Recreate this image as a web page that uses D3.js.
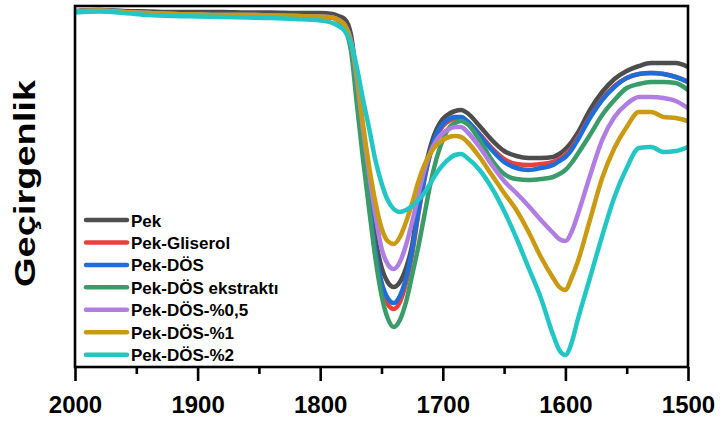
<!DOCTYPE html>
<html>
<head>
<meta charset="utf-8">
<script src="https://cdn.jsdelivr.net/npm/d3@7"></script>
<style>
  html, body { margin: 0; padding: 0; background: #ffffff; }
  svg { display: block; font-family: "Liberation Sans", Arial, sans-serif; }
</style>
</head>
<body>
<svg id="chart" width="725" height="425"></svg>
<script>
// FTIR spectra, 2000–1500 cm⁻¹ (transmittance, arbitrary units)
const wavenumbers = [2000, 1980, 1960, 1940, 1920, 1900, 1880, 1860, 1840, 1820, 1800,
  1790, 1785, 1780, 1775, 1770, 1765, 1760, 1755, 1750, 1745, 1740, 1735, 1730, 1725,
  1720, 1715, 1710, 1705, 1700, 1695, 1690, 1685, 1680, 1670, 1660, 1650, 1640, 1630,
  1620, 1610, 1605, 1600, 1595, 1590, 1580, 1570, 1560, 1550, 1540, 1530, 1520, 1510, 1500];

const pek = [71.2, 71.4, 71.2, 71.1, 71.0, 71.0, 71.0, 70.9, 70.9, 70.8, 70.8,
  70.6, 70.2, 69.6, 66.6, 57.0, 45.4, 35.0, 25.8, 20.0, 17.0, 16.0, 17.0, 19.8, 24.4,
  32.8, 39.0, 44.2, 47.6, 49.6, 50.6, 51.2, 51.4, 50.8, 48.2, 45.4, 43.2, 42.2, 41.8,
  41.8, 42.0, 42.6, 43.6, 45.0, 46.8, 51.4, 55.0, 57.6, 59.2, 60.2, 60.8, 60.8, 60.8, 60.0];

const pekGliserol = [71.1, 71.3, 71.0, 70.8, 70.6, 70.5, 70.4, 70.4, 70.3, 70.2, 70.1,
  69.9, 69.4, 68.4, 65.0, 55.0, 43.0, 32.4, 22.6, 16.0, 12.6, 11.6, 13.0, 16.8, 22.6,
  30.4, 37.4, 42.8, 46.2, 48.2, 49.2, 49.6, 49.6, 49.0, 46.6, 43.8, 41.6, 40.6, 40.4,
  40.6, 41.0, 41.6, 42.4, 43.8, 45.8, 50.0, 53.6, 56.2, 57.8, 58.6, 58.8, 58.6, 58.0, 57.0];

const pekDos = [71.1, 71.3, 71.0, 70.8, 70.6, 70.5, 70.4, 70.4, 70.3, 70.2, 70.1,
  69.9, 69.4, 68.4, 65.2, 55.4, 43.4, 33.0, 23.4, 17.0, 13.8, 12.8, 14.2, 17.8, 23.4,
  31.0, 37.8, 43.0, 46.6, 48.6, 49.6, 50.0, 50.0, 49.2, 46.4, 43.4, 41.0, 39.8, 39.4,
  39.8, 40.4, 41.2, 42.0, 43.4, 45.4, 49.8, 53.4, 56.0, 57.8, 58.6, 58.8, 58.6, 58.0, 57.0];

const pekDosEkstrakt = [71.1, 71.3, 71.0, 70.8, 70.6, 70.5, 70.4, 70.4, 70.3, 70.2, 70.1,
  69.9, 69.2, 67.8, 63.4, 52.4, 41.4, 31.4, 21.8, 14.4, 9.8, 8.0, 9.4, 13.0, 18.4,
  24.0, 30.4, 36.8, 41.8, 45.4, 47.8, 48.8, 49.2, 48.6, 45.4, 41.4, 38.6, 37.6, 37.4,
  37.6, 38.0, 38.6, 39.4, 40.8, 42.6, 46.4, 50.4, 53.4, 55.8, 56.6, 57.0, 57.0, 56.8, 55.4];

const pekDos05 = [71.1, 71.3, 71.0, 70.8, 70.6, 70.5, 70.4, 70.4, 70.3, 70.2, 70.1,
  69.9, 69.4, 68.4, 65.4, 57.4, 47.4, 38.4, 30.4, 23.8, 20.6, 19.6, 21.0, 24.4, 29.0,
  34.4, 39.4, 43.0, 45.4, 46.8, 47.6, 48.0, 48.0, 47.0, 44.0, 40.4, 37.2, 34.8, 32.2,
  29.4, 26.8, 25.6, 25.2, 27.0, 30.4, 38.2, 45.4, 50.0, 52.6, 54.0, 54.0, 53.8, 53.2, 51.8];

const pekDos1 = [71.1, 71.3, 71.0, 70.8, 70.6, 70.5, 70.4, 70.4, 70.3, 70.2, 70.1,
  69.9, 69.4, 68.4, 65.0, 58.4, 48.4, 40.0, 33.0, 27.8, 25.2, 24.6, 26.0, 29.0, 32.8,
  37.0, 40.4, 42.8, 44.4, 45.4, 46.0, 46.2, 46.0, 45.0, 42.0, 38.4, 34.8, 31.4, 27.0,
  22.0, 17.8, 16.0, 15.4, 17.8, 21.0, 29.4, 37.8, 43.8, 48.0, 51.0, 51.0, 50.0, 49.8, 49.2];

const pekDos2 = [70.9, 71.1, 70.8, 70.4, 70.2, 70.1, 70.0, 69.9, 69.8, 69.6, 69.3,
  68.8, 68.2, 67.2, 64.8, 59.8, 53.4, 47.6, 41.4, 36.8, 33.4, 31.6, 31.0, 31.4, 32.2,
  33.4, 34.8, 36.8, 38.8, 40.4, 41.6, 42.4, 42.6, 41.8, 39.4, 35.8, 31.2, 25.8, 19.8,
  13.8, 6.4, 3.4, 2.4, 4.8, 9.4, 17.8, 26.2, 34.0, 39.8, 43.8, 44.0, 43.0, 43.2, 44.0];

const seriesNames = ["Pek", "Pek-Gliserol", "Pek-DÖS", "Pek-DÖS ekstraktı",
  "Pek-DÖS-%0,5", "Pek-DÖS-%1", "Pek-DÖS-%2"];
const seriesValues = [pek, pekGliserol, pekDos, pekDosEkstrakt, pekDos05, pekDos1, pekDos2];
const seriesColors = ["#4d4d4d", "#e8403f", "#1f6ed8", "#3a9d69", "#b07ee2", "#c99a12", "#22c6c5"];

const majorTicks = [2000, 1900, 1800, 1700, 1600, 1500];
const minorTicks = [1950, 1850, 1750, 1650, 1550];
const yTitle = "Geçirgenlik";

const svg = d3.select("#chart");
const plot = { left: 75, right: 688, top: 6, bottom: 367 };

const x = d3.scaleLinear().domain([2000, 1500]).range([plot.left, plot.right]);
const y = d3.scaleLinear().domain([0, 72.2]).range([plot.bottom, plot.top]);

svg.append("defs").append("clipPath").attr("id", "plotClip")
  .append("rect")
  .attr("x", plot.left).attr("y", plot.top)
  .attr("width", plot.right - plot.left).attr("height", plot.bottom - plot.top);

// spectra
const line = d3.line()
  .x((d, i) => x(wavenumbers[i]))
  .y(d => y(d))
  .curve(d3.curveMonotoneX);

svg.append("g").attr("clip-path", "url(#plotClip)")
  .selectAll("path")
  .data(seriesValues)
  .join("path")
  .attr("d", d => line(d))
  .attr("fill", "none")
  .attr("stroke", (d, i) => seriesColors[i])
  .attr("stroke-width", 4.5)
  .attr("stroke-linejoin", "round")
  .attr("stroke-linecap", "round");

// frame
svg.append("rect")
  .attr("x", plot.left).attr("y", plot.top)
  .attr("width", plot.right - plot.left).attr("height", plot.bottom - plot.top)
  .attr("fill", "none").attr("stroke", "#000").attr("stroke-width", 2.6);

// bottom axis: major ticks with labels, minor ticks without
const axisMajor = svg.append("g")
  .attr("transform", `translate(0,${plot.bottom})`)
  .call(d3.axisBottom(x).tickValues(majorTicks).tickSize(14).tickFormat(d3.format("d")));
const axisMinor = svg.append("g")
  .attr("transform", `translate(0,${plot.bottom})`)
  .call(d3.axisBottom(x).tickValues(minorTicks).tickSize(7).tickFormat(""));

[axisMajor, axisMinor].forEach(g => {
  g.select(".domain").remove();
  g.selectAll(".tick line").attr("stroke", "#000").attr("stroke-width", 2.6);
});
axisMajor.selectAll(".tick text")
  .attr("y", 46).attr("dy", 0)
  .attr("fill", "#000")
  .style("font-size", "24px")
  .style("font-weight", "bold")
  .style("font-family", "'Liberation Sans', Arial, sans-serif");

// y-axis title
svg.append("text")
  .attr("transform", "translate(35,183.5) rotate(-90)")
  .attr("text-anchor", "middle")
  .attr("textLength", 207)
  .attr("lengthAdjust", "spacingAndGlyphs")
  .style("font-size", "30px")
  .style("font-weight", "bold")
  .attr("fill", "#000")
  .text(yTitle);

// legend
const legend = svg.append("g");
const legendRows = legend.selectAll("g")
  .data(seriesNames)
  .join("g")
  .attr("transform", (d, i) => `translate(0,${220 + i * 22.45})`);
legendRows.append("line")
  .attr("x1", 86).attr("x2", 127)
  .attr("y1", 0).attr("y2", 0)
  .attr("stroke", (d, i) => seriesColors[i])
  .attr("stroke-width", 4.5)
  .attr("stroke-linecap", "round");
legendRows.append("text")
  .attr("x", 131).attr("y", 6.5)
  .style("font-size", "17px")
  .style("font-weight", "bold")
  .attr("fill", "#000")
  .text(d => d);
</script>
</body>
</html>
